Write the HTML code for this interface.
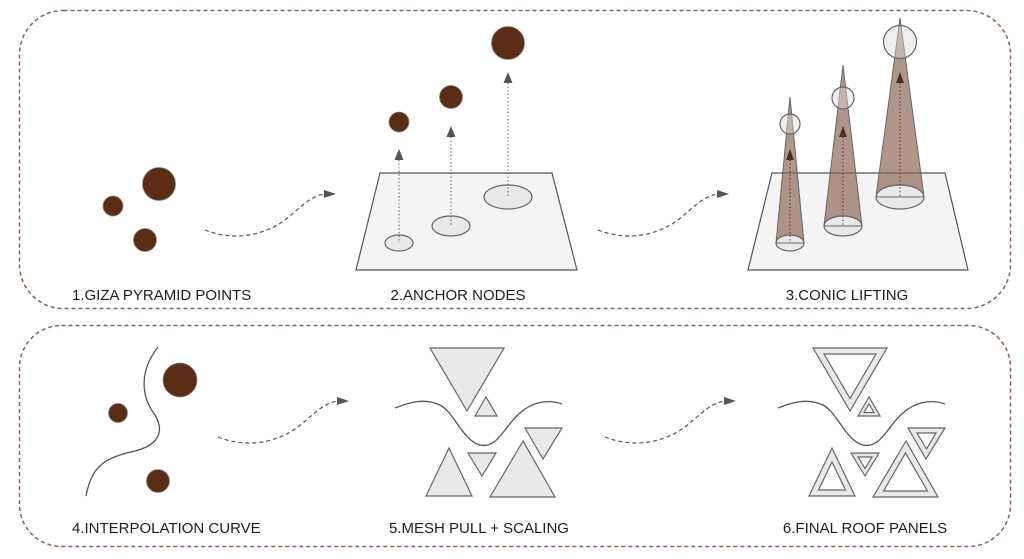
<!DOCTYPE html>
<html><head><meta charset="utf-8"><style>
html,body{margin:0;padding:0;background:#fff;}
svg{display:block;}
text{font-family:"Liberation Sans",Arial,sans-serif;font-size:15px;fill:#1e1e1e;}
</style></head><body>
<svg width="1024" height="559" viewBox="0 0 1024 559" xmlns="http://www.w3.org/2000/svg">
<!-- boxes -->
<rect x="19.5" y="10.5" width="991" height="298" rx="44" fill="none" stroke="#86644f" stroke-width="1.5" stroke-dasharray="4 3"/>
<rect x="19.5" y="325.5" width="991" height="221" rx="42" fill="none" stroke="#86644f" stroke-width="1.5" stroke-dasharray="4 3"/>

<!-- arrows -->
<g fill="none" stroke="#555" stroke-width="1.2" stroke-dasharray="4 3">
<path d="M205,230 C230,240 260,238 285,220 C300,208 310,196 325,194"/>
<path d="M598,230 C623,240 653,238 678,220 C693,208 703,196 718,194"/>
<path d="M218,437 C243,447 273,445 298,427 C313,415 323,403 338,401"/>
<path d="M605,437 C630,447 660,445 685,427 C700,415 710,403 725,401"/>
</g>
<g fill="#555">
<polygon points="324,190 336,194 324,198"/>
<polygon points="717,190 729,194 717,198"/>
<polygon points="337,397 349,401 337,405"/>
<polygon points="724,397 736,401 724,405"/>
</g>

<!-- stage 1 -->
<g fill="#5a2d14" stroke="#888" stroke-width="0.8">
<circle cx="159" cy="184" r="16.5"/>
<circle cx="113" cy="206" r="10"/>
<circle cx="145" cy="240" r="11.5"/>
</g>
<text x="72" y="300">1.GIZA PYRAMID POINTS</text>

<!-- stage 2 -->
<polygon points="380,173 552,173 577,270 356,270" fill="#f4f4f4" stroke="#555" stroke-width="1.2"/>
<g fill="#e9e9e9" stroke="#666" stroke-width="1.2">
<ellipse cx="399" cy="243" rx="14" ry="8"/>
<ellipse cx="451" cy="226" rx="19" ry="10"/>
<ellipse cx="508" cy="197" rx="24" ry="12"/>
</g>
<g stroke="#666" stroke-width="1.2" stroke-dasharray="1.2 2.4" fill="none">
<line x1="399" y1="160" x2="399" y2="243"/>
<line x1="451" y1="137" x2="451" y2="226"/>
<line x1="508" y1="83" x2="508" y2="197"/>
</g>
<g fill="#555">
<polygon points="399,149 394.5,160 403.5,160"/>
<polygon points="451,126 446.5,137 455.5,137"/>
<polygon points="508,72 503.5,83 512.5,83"/>
</g>
<g fill="#5a2d14" stroke="#888" stroke-width="0.8">
<circle cx="399" cy="122" r="10"/>
<circle cx="451" cy="97" r="11.5"/>
<circle cx="508" cy="43" r="16.5"/>
</g>
<text x="458" y="300" text-anchor="middle">2.ANCHOR NODES</text>

<!-- stage 3 -->
<polygon points="772,173 945,173 968,270 748,270" fill="#f4f4f4" stroke="#555" stroke-width="1.2"/>
<g fill="#e9e9e9" stroke="#666" stroke-width="1.2">
<ellipse cx="790" cy="243" rx="14" ry="8"/>
<ellipse cx="843" cy="226" rx="19" ry="10"/>
<ellipse cx="900" cy="197" rx="24" ry="12"/>
</g>
<g fill="#8b6452" fill-opacity="0.68" stroke="#666" stroke-width="1">
<path d="M790,97 L804,243 A14,8 0 0 0 776,243 Z"/>
<path d="M843,65 L862,226 A19,10 0 0 0 824,226 Z"/>
<path d="M900,18 L924,197 A24,12 0 0 0 876,197 Z"/>
</g>
<g stroke="#666" stroke-width="1">
<line x1="776" y1="243" x2="804" y2="243"/>
<line x1="824" y1="226" x2="862" y2="226"/>
<line x1="876" y1="197" x2="924" y2="197"/>
</g>
<g stroke="#4a3020" stroke-width="1.1" stroke-dasharray="1.2 2.4" fill="none">
<line x1="790" y1="160" x2="790" y2="243"/>
<line x1="843" y1="137" x2="843" y2="226"/>
<line x1="900" y1="83" x2="900" y2="197"/>
</g>
<g fill="#4a3020">
<polygon points="790,149 786,160 794,160"/>
<polygon points="843,126 839,137 847,137"/>
<polygon points="900,72 896,83 904,83"/>
</g>
<g fill="#dcdcdc" fill-opacity="0.45" stroke="#666" stroke-width="1.2">
<circle cx="790" cy="124" r="10"/>
<circle cx="843" cy="98" r="11"/>
<circle cx="900" cy="42" r="16.5"/>
</g>
<text x="847" y="300" text-anchor="middle">3.CONIC LIFTING</text>

<!-- stage 4 -->
<path d="M158,347 C140,370 140,395 155,415 C165,432 158,445 135,451 C105,458 92,465 86,496" fill="none" stroke="#555" stroke-width="1.3"/>
<g fill="#5a2d14" stroke="#888" stroke-width="0.8">
<circle cx="180" cy="380" r="17"/>
<circle cx="118" cy="413" r="9.5"/>
<circle cx="158" cy="481" r="11.5"/>
</g>
<text x="72" y="533">4.INTERPOLATION CURVE</text>

<!-- stage 5 -->
<path d="M395,408 C410,402 425,398 440,405 C455,413 462,440 480,445 C498,449 505,425 520,413 C532,402 548,399 562,404" fill="none" stroke="#555" stroke-width="1.3"/>
<g fill="#e9e9e9" stroke="#666" stroke-width="1.2">
<polygon points="430,348 504,348 467,411"/>
<polygon points="486,397 475,416 497,416"/>
<polygon points="525,428 562,428 543,459"/>
<polygon points="468,453 496,453 482,476"/>
<polygon points="449,448 426,496 472,496"/>
<polygon points="523,441 490,497 555,497"/>
</g>
<text x="479" y="533" text-anchor="middle">5.MESH PULL + SCALING</text>

<!-- stage 6 -->
<path d="M778,408 C793,402 808,398 823,405 C838,413 845,440 863,445 C881,449 888,425 903,413 C915,402 931,399 945,404" fill="none" stroke="#555" stroke-width="1.3"/>
<g fill="#e9e9e9" stroke="#666" stroke-width="1.2">
<polygon points="813,348 887,348 850,411"/>
<polygon points="869,397 858,416 880,416"/>
<polygon points="908,428 945,428 926,459"/>
<polygon points="851,453 879,453 865,476"/>
<polygon points="832,448 809,496 855,496"/>
<polygon points="906,441 873,497 938,497"/>
</g>
<g fill="#fff" stroke="#666" stroke-width="1.2">
<polygon points="824,354 876,354 850,398.5"/>
<polygon points="869,404 864,412.5 874,412.5"/>
<polygon points="917,433 936,433 926.5,449"/>
<polygon points="858,457 872,457 865,468.5"/>
<polygon points="832,462 818.5,490 845.5,490"/>
<polygon points="905.5,453 883.5,491 927.5,491"/>
</g>
<text x="865" y="533" text-anchor="middle">6.FINAL ROOF PANELS</text>
</svg>
</body></html>
